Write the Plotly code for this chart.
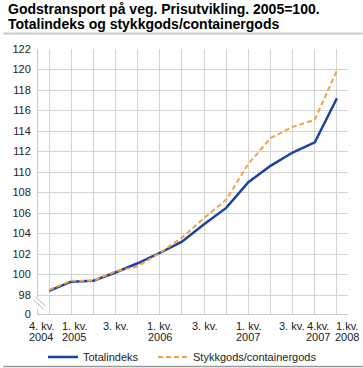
import plotly.graph_objects as go

categories = ["4. kv. 2004", "1. kv. 2005", "2. kv. 2005", "3. kv. 2005", "4. kv. 2005",
              "1. kv. 2006", "2. kv. 2006", "3. kv. 2006", "4. kv. 2006",
              "1. kv. 2007", "2. kv. 2007", "3. kv. 2007", "4. kv. 2007", "1. kv. 2008"]
totalindeks = [98.4, 99.3, 99.4, 100.2, 101.1, 102.1, 103.2, 104.9, 106.5,
               109.0, 110.6, 111.9, 112.9, 117.2]
stykkgods = [98.5, 99.4, 99.4, 100.3, 100.8, 102.1, 103.6, 105.5, 107.3,
             110.8, 113.3, 114.4, 115.1, 119.9]

y_ticks = [98, 100, 102, 104, 106, 108, 110, 112, 114, 116, 118, 120, 122]
y_break_pos = 96.15  # position used for the "0" label below the axis break

# x tick labels: (category index, line1, line2, pixel shift)
x_labels = [(0, "4. kv.", "2004", -8), (1, "1. kv.", "2005", 3), (3, "3. kv.", "", 0),
            (5, "1. kv.", "2006", 0), (7, "3. kv.", "", 0), (9, "1. kv.", "2007", 0),
            (11, "3. kv.", "", -1), (12, "4.kv.", "2007", 3), (13, "1.kv.", "2008", 10)]

FONT = "Liberation Sans, Arial, sans-serif"
BLUE = "#1a44a0"
ORANGE = "#f7a040"

# plot-area geometry in pixels
L, R, T, B = 35, 348, 49, 314
W, H = R - L, B - T
def px(x):
    return (x - L) / W
def py(y):
    return (B - y) / H

fig = go.Figure()
xs = list(range(len(categories)))
fig.add_trace(go.Scatter(x=xs, y=totalindeks, mode="lines", name="Totalindeks",
                         line=dict(color=BLUE, width=2.5), legend="legend"))
fig.add_trace(go.Scatter(x=xs, y=stykkgods, mode="lines", name="Stykkgods/containergods",
                         line=dict(color=ORANGE, width=2, dash="5px,3px"), legend="legend2"))

annotations = []
# title lines
annotations.append(dict(text="<b>Godstransport på veg. Prisutvikling. 2005=100.</b>",
                        xref="paper", yref="paper", x=px(3), y=py(9.5), xanchor="left",
                        yanchor="middle", showarrow=False,
                        font=dict(family=FONT, size=14, color="#000000")))
annotations.append(dict(text="<b>Totalindeks og stykkgods/containergods</b>",
                        xref="paper", yref="paper", x=px(3), y=py(24.5), xanchor="left",
                        yanchor="middle", showarrow=False,
                        font=dict(family=FONT, size=14, color="#000000")))
for idx, l1, l2, sh in x_labels:
    annotations.append(dict(text=l1, x=idx, xref="x", yref="paper", y=py(325.5),
                            xshift=sh, xanchor="center", yanchor="middle", showarrow=False,
                            font=dict(family=FONT, size=11, color="#222222")))
    if l2:
        annotations.append(dict(text=l2, x=idx, xref="x", yref="paper", y=py(336.8),
                                xshift=sh, xanchor="center", yanchor="middle", showarrow=False,
                                font=dict(family=FONT, size=11, color="#222222")))

shapes = [
    # rule under title
    dict(type="line", xref="paper", yref="paper", x0=px(0), x1=px(363), y0=py(33.5), y1=py(33.5),
         line=dict(color="#c8c8c8", width=2)),
    # bottom rule
    dict(type="line", xref="paper", yref="paper", x0=px(0), x1=px(363), y0=py(366.5), y1=py(366.5),
         line=dict(color="#999999", width=1.5)),
    # axis break: gap on axis line and two diagonal marks
    dict(type="rect", xref="paper", yref="paper", x0=px(33), x1=px(37), y0=py(309), y1=py(297.5),
         fillcolor="white", line=dict(width=0), layer="above"),
    dict(type="line", xref="paper", yref="paper", x0=px(30), y0=py(299.5), x1=px(41), y1=py(309.5),
         line=dict(color="#b8b8b8", width=1), layer="above"),
    dict(type="line", xref="paper", yref="paper", x0=px(32.5), y0=py(297), x1=px(43), y1=py(306.5),
         line=dict(color="#b8b8b8", width=1), layer="above"),
]

legend_common = dict(orientation="h", xref="container", yref="container",
                     y=1 - 357 / 368, xanchor="left", yanchor="middle",
                     font=dict(family=FONT, size=11, color="#222222"),
                     bgcolor="rgba(0,0,0,0)")

fig.update_layout(
    width=363, height=368,
    margin=dict(l=L, r=363 - R, t=T, b=368 - B, pad=0),
    paper_bgcolor="white", plot_bgcolor="white",
    font=dict(family=FONT, size=11, color="#222222"),
    showlegend=True,
    legend=dict(x=43 / 363, **legend_common),
    legend2=dict(x=153 / 363, **legend_common),
    annotations=annotations,
    shapes=shapes,
    xaxis=dict(range=[-0.5, len(categories) - 0.5], tickvals=xs, showticklabels=False,
               showgrid=True, gridcolor="#d4d4d4", gridwidth=1, ticks="",
               showline=True, linecolor="#c8c8c8", linewidth=1, zeroline=False, fixedrange=True),
    yaxis=dict(range=[y_break_pos, 122], tickvals=[y_break_pos] + y_ticks,
               ticktext=["0"] + [str(v) for v in y_ticks],
               showgrid=True, gridcolor="#d4d4d4", gridwidth=1, ticks="",
               ticklabelstandoff=4,
               showline=True, linecolor="#c8c8c8", linewidth=1, zeroline=False,
               tickfont=dict(family=FONT, size=11, color="#222222"), fixedrange=True),
)

fig.write_html("out.html", config={"displayModeBar": False},
               post_script="document.body.style.margin='0';document.body.style.overflow='hidden';")
